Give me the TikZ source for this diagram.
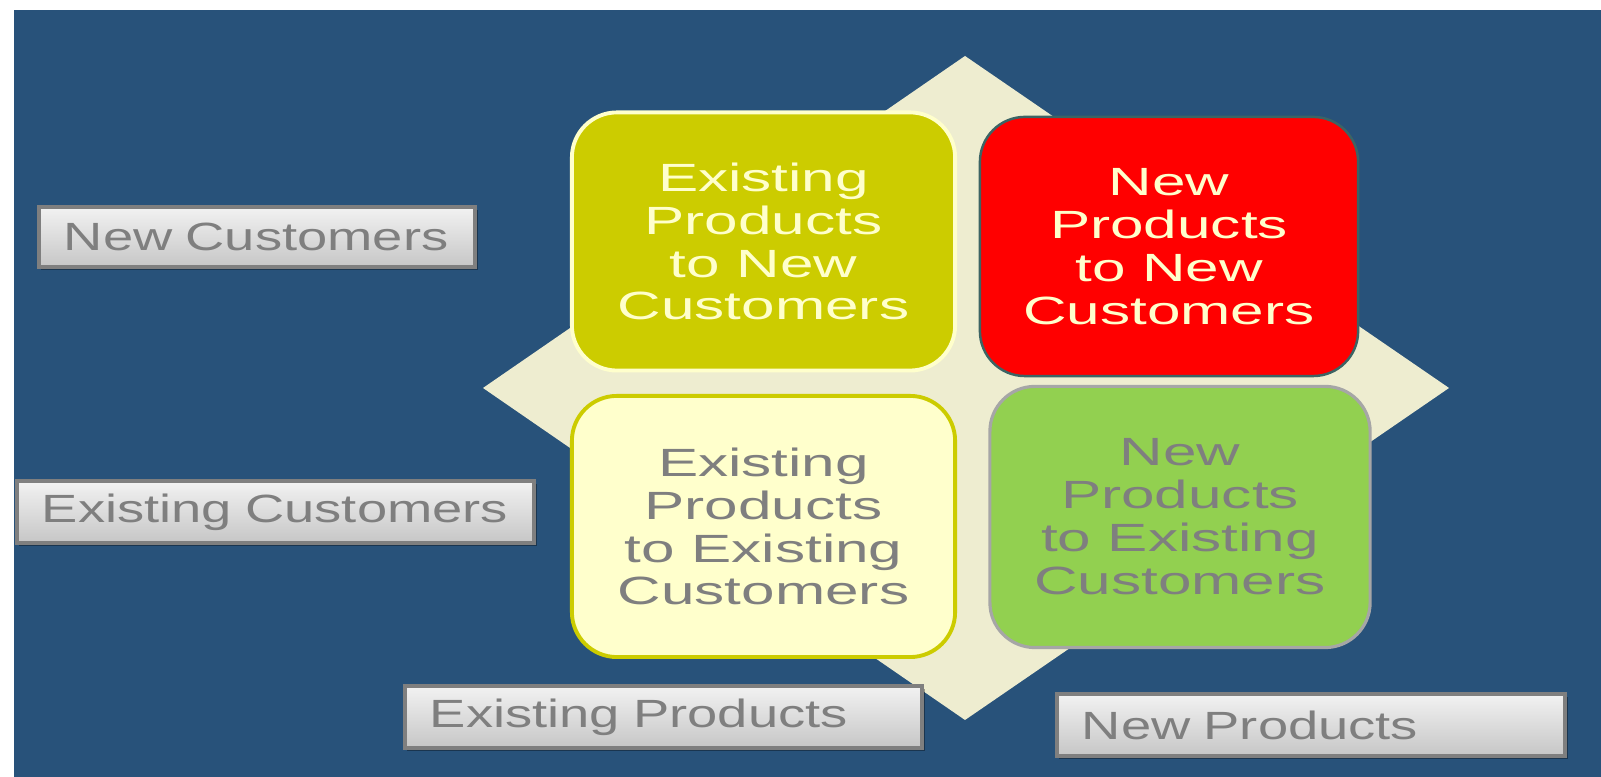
\documentclass[tikz,border=0pt]{standalone}
\usepackage{fontspec}
\newfontfamily\quadfont[FakeStretch=1.53]{Liberation Sans}
\newfontfamily\tagfont[FakeStretch=1.38]{Liberation Sans}
\usetikzlibrary{positioning,shadows}

\definecolor{bgblue}{HTML}{28527A}
\definecolor{diamondcream}{HTML}{EEEDD0}
\definecolor{quadolive}{HTML}{CCCC00}
\definecolor{quadpale}{HTML}{FFFFCC}
\definecolor{quadred}{HTML}{FF0000}
\definecolor{quadgreen}{HTML}{92D050}
\definecolor{textcream}{HTML}{FFFFCC}
\definecolor{textgray}{HTML}{7F7F7F}
\definecolor{tagtop}{HTML}{F2F2F2}
\definecolor{tagbottom}{HTML}{C6C6C6}

\tikzset{
  quad/.style={rounded corners=0.45cm, minimum width=3.83cm, minimum height=2.58cm,
    line width=1.1pt, align=center, inner sep=0pt,
    font=\quadfont\fontsize{11.2}{12.2}\selectfont},
  tag/.style={draw=textgray, line width=1pt, top color=tagtop, bottom color=tagbottom,
    minimum height=0.62cm, inner xsep=0.25cm, inner ysep=0pt, align=left, text=textgray,
    text width=#1, font=\tagfont\fontsize{11.2}{12.2}\selectfont,
    drop shadow={shadow xshift=0.025cm, shadow yshift=-0.03cm, fill=black, opacity=0.35}},
}

\begin{document}
\begin{tikzpicture}[x=0.01cm, y=0.01cm]
    \useasboundingbox (0,0) rectangle (1601,777);
    \fill[white] (0,0) rectangle (1601,777);
    \fill[bgblue] (14,0) rectangle (1601,767);

    % diamond behind the four quadrants
    \fill[diamondcream] (965,721) -- (1449,389) -- (965,57) -- (483,389) -- cycle;

    % quadrants
    \node[quad, fill=quadolive, draw=quadpale, text=textcream] (exnew) at (763.5,535.5)
        {Existing\\Products\\to New\\Customers};
    \node[quad, fill=quadred, draw={rgb,255:red,60;green,100;blue,100}, line width=0.7pt,
        text=textcream, minimum width=3.78cm, minimum height=2.59cm] (newnew) at (1169,530.5)
        {New\\Products\\to New\\Customers};
    \node[quad, fill=quadpale, draw=quadolive, text=textgray, minimum height=2.61cm] (exex) at (763.5,250.5)
        {Existing\\Products\\to Existing\\Customers};
    \node[quad, fill=quadgreen, draw=black!35, text=textgray, line width=0.9pt,
        minimum width=3.8cm, minimum height=2.61cm] (newex) at (1180,260)
        {New\\Products\\to Existing\\Customers};

    % axis labels
    \node[tag=3.86cm, minimum height=0.60cm] (newcust) at (257,540) {\mbox{New Customers}};
    \node[tag=4.67cm] (excust) at (275.5,265) {\mbox{Existing Customers}};
    \node[tag=4.67cm, minimum height=0.62cm] (exprod) at (663.5,60) {\mbox{Existing Products}};
    \node[tag=4.58cm, minimum height=0.62cm] (newprod) at (1311,52) {\mbox{New Products}};
\end{tikzpicture}
\end{document}
